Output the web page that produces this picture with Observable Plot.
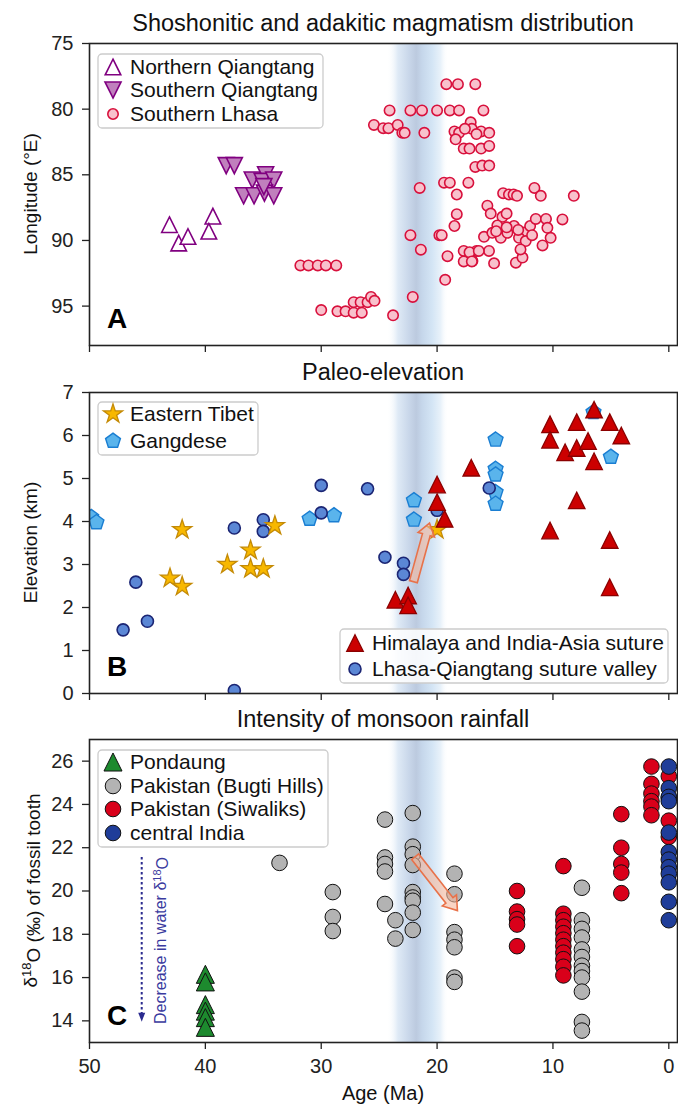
<!DOCTYPE html>
<html><head><meta charset="utf-8">
<script src="https://cdn.jsdelivr.net/npm/d3@7"></script>
<script src="https://cdn.jsdelivr.net/npm/@observablehq/plot@0.6"></script>
<style>
body{margin:0;background:#fff;width:678px;}
#chart svg{display:block}
</style></head><body><div id="chart"></div>
<script>
// ---------------- shared ----------------
const xTicks = [50, 40, 30, 20, 10, 0];
const bandAge = [24.3, 19.0];

// ---------------- Panel A: [age Ma, longitude °E] ----------------
const lonTicks = [75, 80, 85, 90, 95];
const northernQiangtang = [[43.1, 88.8], [42.3, 90.2], [41.5, 89.7], [39.35, 88.15], [39.7, 89.3]];
const southernQiangtang = [[38.2, 84.3], [37.5, 84.3], [35.95, 85.4], [34.8, 85.0], [35.1, 85.5], [34.1, 85.4],
  [36.7, 86.6], [35.8, 86.6], [34.9, 86.4], [34.1, 86.6], [34.95, 85.9]];
const southernLhasa = [
  [31.8, 91.9], [31.1, 91.9], [30.3, 91.9], [29.6, 91.9], [28.7, 91.9],
  [30.0, 95.3], [28.6, 95.4], [27.9, 95.4], [27.2, 95.5], [26.5, 95.5], [27.2, 94.7], [26.6, 94.7], [26.0, 94.7], [25.7, 94.3], [25.4, 94.6],
  [23.8, 95.7], [22.1, 94.3],
  [19.2, 78.1], [18.2, 78.1], [16.7, 78.1],
  [24.1, 80.1], [22.3, 80.1], [21.3, 80.1], [20.0, 80.1], [18.9, 80.1], [18.1, 80.1], [16.0, 80.1],
  [25.45, 81.2], [24.65, 81.45], [24.2, 81.45], [23.4, 81.2], [23.0, 81.8], [22.8, 81.8], [21.1, 81.8],
  [18.5, 81.7], [18.1, 81.8], [17.1, 81.0], [17.0, 81.5], [16.2, 81.7], [15.5, 81.8], [18.4, 82.3],
  [17.7, 83.0], [17.2, 83.0], [16.2, 83.0], [15.5, 82.8], [17.6, 81.5], [16.6, 81.9],
  [16.7, 84.4], [16.1, 84.3], [15.5, 84.3],
  [21.5, 86.0], [19.4, 85.6], [18.9, 85.6], [17.3, 85.6], [18.3, 86.5],
  [14.3, 86.4], [13.8, 86.5], [13.4, 86.5], [13.1, 86.6], [11.6, 86.0], [11.05, 86.6], [8.2, 86.6],
  [15.66, 87.35], [15.37, 87.95], [14.36, 88.2], [14.0, 87.95], [14.8, 88.86], [13.36, 88.9], [12.5, 89.4], [11.97, 88.9],
  [11.48, 88.36], [10.6, 88.36], [9.18, 88.4], [10.48, 89.04], [10.2, 89.8], [10.9, 90.38], [15.95, 89.72], [15.23, 89.42],
  [14.5, 89.8], [13.93, 89.42], [12.93, 89.8], [12.35, 90.05], [15.52, 90.8], [16.6, 90.8], [16.95, 91.56], [15.08, 91.74],
  [13.2, 91.69], [12.63, 91.3], [12.8, 90.68], [14.0, 89.0], [13.0, 89.2], [11.8, 89.6], [14.9, 89.3],
  [18.3, 88.0], [18.5, 88.9], [22.3, 89.6], [19.8, 89.6], [19.6, 89.6], [21.4, 90.7], [19.1, 91.2],
  [17.7, 90.8], [17.2, 90.9], [17.7, 91.6], [17.0, 91.6], [19.3, 93.0], [16.4, 90.8]
];

// ---------------- Panel B: [age Ma, elevation km] ----------------
const elevTicks = [0, 1, 2, 3, 4, 5, 6, 7];
const gangdese = [[49.85, 4.1], [49.4, 3.98], [31.0, 4.06], [28.9, 4.14], [22.0, 4.49], [22.0, 4.04],
  [14.95, 5.9], [14.95, 5.22], [14.95, 5.09], [14.95, 4.68], [14.95, 4.41], [6.5, 6.54], [5.0, 5.5]];
const lhasaQiangtang = [[37.5, 3.85], [35.0, 4.04], [35.0, 3.77], [30.0, 4.84], [30.0, 4.2], [26.0, 4.76],
  [46.0, 2.59], [47.1, 1.48], [45.0, 1.68], [37.5, 0.07], [24.5, 3.17], [22.9, 3.03], [22.9, 2.77], [15.5, 4.78], [20.0, 4.26]];
const easternTibet = [[42.0, 3.81], [43.05, 2.68], [42.0, 2.49], [38.1, 3.0], [36.1, 3.33], [36.1, 2.9], [35.0, 2.9], [34.0, 3.9], [20.0, 3.81]];
const himalaya = [[23.6, 2.18], [22.5, 2.28], [22.5, 2.05], [20.0, 4.86], [20.0, 4.45], [19.35, 4.06], [17.05, 5.25],
  [10.25, 6.26], [10.25, 5.9], [8.95, 5.61], [7.95, 6.31], [7.95, 5.71], [6.97, 5.87], [6.45, 6.6], [6.45, 5.4],
  [5.1, 6.31], [4.1, 6.0], [7.95, 4.49], [10.25, 3.79], [5.1, 3.57], [5.1, 2.47]];
const upliftArrow = [[22.0, 2.59], [20.61, 3.95]];

// ---------------- Panel C: [age Ma, δ18O ‰] ----------------
const d18Ticks = [14, 16, 18, 20, 22, 24, 26];
const pondaung = [[40, 16.15], [40, 15.8], [40, 14.75], [40, 14.45], [40, 14.15], [40, 13.7]];
const bugti = [[33.6, 21.3],
  [29.0, 19.95], [29.0, 18.8], [29.0, 18.15],
  [24.5, 23.3], [24.5, 21.55], [24.5, 21.25], [24.5, 20.9], [24.5, 19.4],
  [23.6, 18.65], [23.6, 17.8],
  [22.1, 23.6], [22.1, 22.05], [22.1, 21.7], [22.1, 21.2], [22.1, 19.95], [22.1, 19.7], [22.1, 19.55], [22.1, 19.0], [22.1, 18.2],
  [18.5, 20.8], [18.5, 19.85], [18.5, 18.1], [18.5, 17.75], [18.5, 17.4], [18.5, 16.0], [18.5, 15.8],
  [7.5, 20.15], [7.5, 18.65], [7.5, 18.25], [7.5, 17.85], [7.5, 17.3], [7.5, 16.95], [7.5, 16.55], [7.5, 16.3], [7.5, 16.0],
  [7.5, 15.35], [7.5, 13.95], [7.5, 13.55]];
const siwaliks = [[13.1, 20.0], [13.1, 19.05], [13.1, 18.7], [13.1, 18.45], [13.1, 17.45],
  [9.1, 21.15], [9.1, 18.95], [9.1, 18.65], [9.1, 18.35], [9.1, 18.05], [9.1, 17.75], [9.1, 17.45], [9.1, 17.15], [9.1, 16.85], [9.1, 16.5], [9.1, 16.1],
  [4.1, 23.55], [4.1, 22.0], [4.1, 21.25], [4.1, 20.85], [4.1, 19.9],
  [1.5, 25.75], [1.5, 24.95], [1.5, 24.5], [1.5, 24.15], [1.5, 23.9], [1.5, 23.5],
  [0, 25.3], [0, 24.3], [0, 23.25], [0, 22.5]];
const centralIndia = [[0, 25.75], [0, 24.75], [0, 24.35], [0, 24.15], [0, 22.7], [0, 21.8], [0, 21.45], [0, 21.1], [0, 20.8], [0, 20.4], [0, 19.5], [0, 18.65]];
const monsoonArrow = [[21.85, 21.56], [18.2, 19.07]];
const waterArrow = [[45.45, 21.55], [45.45, 13.94]];
const waterLabelAt = [43.35, 17.69];

// ---------------- helpers ----------------
const FONT = "'Liberation Sans', Arial, Helvetica, sans-serif";
const triUp = {draw(c, size) { const s = Math.sqrt(2 * size); c.moveTo(0, -s / 2); c.lineTo(s / 2, s / 2); c.lineTo(-s / 2, s / 2); c.closePath(); }};
const triDown = {draw(c, size) { const s = Math.sqrt(2 * size); c.moveTo(0, s / 2); c.lineTo(s / 2, -s / 2); c.lineTo(-s / 2, -s / 2); c.closePath(); }};
const pentagon = {draw(c, size) {
  const R = Math.sqrt(size / (2.5 * Math.sin(2 * Math.PI / 5)));
  for (let i = 0; i < 5; i++) { const a = -Math.PI / 2 + i * 2 * Math.PI / 5; const px = R * Math.cos(a), py = R * Math.sin(a); if (i) c.lineTo(px, py); else c.moveTo(px, py); }
  c.closePath();
}};

const S = {
  nq: {symbol: triUp, r: 6.2, fill: "white", stroke: "#800080", strokeWidth: 1.6},
  sq: {symbol: triDown, r: 6.4, fill: "#c080bd", stroke: "#800080", strokeWidth: 1.6},
  sl: {symbol: d3.symbolCircle, r: 5.2, fill: "#f8c1cc", stroke: "#d8103c", strokeWidth: 1.6},
  et: {symbol: d3.symbolStar, r: 6.0, fill: "#f8b800", stroke: "#c48a06", strokeWidth: 1.3},
  gd: {symbol: pentagon, r: 6.8, fill: "#5ab4ec", stroke: "#1a7ed2", strokeWidth: 1.4},
  hm: {symbol: triUp, r: 6.6, fill: "#cc0000", stroke: "#8b0000", strokeWidth: 1.3},
  lq: {symbol: d3.symbolCircle, r: 6.0, fill: "#5b87d5", stroke: "#1b2574", strokeWidth: 1.6},
  pd: {symbol: triUp, r: 7.2, fill: "#1d8a2e", stroke: "#111", strokeWidth: 1},
  bg: {symbol: d3.symbolCircle, r: 7.8, fill: "#b3b3b3", stroke: "#111", strokeWidth: 1},
  sw: {symbol: d3.symbolCircle, r: 7.8, fill: "#d9001a", stroke: "#111", strokeWidth: 1},
  ci: {symbol: d3.symbolCircle, r: 7.8, fill: "#1f3d99", stroke: "#111", strokeWidth: 1}
};

function dots(data, st) {
  return Plot.dot(data, {x: d => d[0], y: d => d[1], symbol: st.symbol, r: st.r, fill: st.fill, stroke: st.stroke, strokeWidth: st.strokeWidth, clip: true});
}

function band(id) {
  return (index, scales, values, dims) => {
    const x1 = scales.x(bandAge[0]), x2 = scales.x(bandAge[1]);
    const g = d3.create("svg:g");
    const gr = g.append("defs").append("linearGradient").attr("id", id).attr("x1", 0).attr("x2", 1).attr("y1", 0).attr("y2", 0);
    [[0, "#ffffff", 0], [0.18, "#dfeaf6", 1], [0.36, "#c9d7ea", 1], [0.48, "#bccadf", 1], [0.58, "#c6d7eb", 1], [0.74, "#d4e5f5", 1], [0.88, "#e9f2fa", 1], [1, "#ffffff", 0]]
      .forEach(([o, c, a]) => gr.append("stop").attr("offset", o).attr("stop-color", c).attr("stop-opacity", a));
    g.append("rect").attr("x", x1).attr("width", x2 - x1).attr("y", dims.marginTop)
      .attr("height", dims.height - dims.marginTop - dims.marginBottom).attr("fill", `url(#${id})`);
    return g.node();
  };
}

function title(text) {
  return (index, scales, values, d) => d3.create("svg:text")
    .attr("x", d.marginLeft + (d.width - d.marginLeft - d.marginRight) / 2).attr("y", d.marginTop - 12)
    .attr("text-anchor", "middle").attr("font-size", 23.5).attr("fill", "#111").attr("font-family", FONT).text(text).node();
}

function yLabel(build) {
  return (index, scales, values, d) => {
    const cy = d.marginTop + (d.height - d.marginTop - d.marginBottom) / 2;
    const t = d3.create("svg:text").attr("transform", `translate(37,${cy}) rotate(-90)`)
      .attr("text-anchor", "middle").attr("font-size", 19).attr("fill", "#111").attr("font-family", FONT);
    build(t);
    return t.node();
  };
}

function panelLetter(letter) {
  return (index, scales, values, d) => d3.create("svg:text")
    .attr("x", d.marginLeft + 28).attr("y", d.height - d.marginBottom - 17)
    .attr("text-anchor", "middle").attr("font-size", 28).attr("font-weight", "bold").attr("fill", "#000").attr("font-family", FONT).text(letter).node();
}

function legend(box, rows) {
  return (index, scales, values, d) => {
    const g = d3.create("svg:g").attr("transform", `translate(${d.marginLeft},${d.marginTop})`);
    g.append("rect").attr("x", box.x).attr("y", box.y).attr("width", box.w).attr("height", box.h).attr("rx", 4)
      .attr("fill", "white").attr("fill-opacity", 0.85).attr("stroke", "#cccccc").attr("stroke-width", 1.3);
    for (const row of rows) {
      const st = row.st;
      g.append("path").attr("transform", `translate(${box.x + 15},${row.y})`).attr("d", d3.symbol(st.symbol, Math.PI * st.r * st.r)())
        .attr("fill", st.fill).attr("stroke", st.stroke).attr("stroke-width", st.strokeWidth);
      g.append("text").attr("x", box.x + 32).attr("y", row.y).attr("dy", "0.35em").attr("font-size", 21)
        .attr("text-anchor", "start").attr("fill", "#111").attr("font-family", FONT).text(row.label);
    }
    return g.node();
  };
}

function blockArrow(pts, shaft, head, headLen) {
  return (index, scales, values, d) => {
    const X1 = scales.x(pts[0][0]), Y1 = scales.y(pts[0][1]), X2 = scales.x(pts[1][0]), Y2 = scales.y(pts[1][1]);
    const L = Math.hypot(X2 - X1, Y2 - Y1), ux = (X2 - X1) / L, uy = (Y2 - Y1) / L, nx = -uy, ny = ux;
    const bx = X2 - ux * headLen, by = Y2 - uy * headLen;
    const p = [[X1 + nx * shaft, Y1 + ny * shaft], [bx + nx * shaft, by + ny * shaft], [bx + nx * head, by + ny * head], [X2, Y2],
      [bx - nx * head, by - ny * head], [bx - nx * shaft, by - ny * shaft], [X1 - nx * shaft, Y1 - ny * shaft]];
    return d3.create("svg:polygon").attr("points", p.map(q => q.join(",")).join(" "))
      .attr("fill", "#f5b89c").attr("fill-opacity", 0.6).attr("stroke", "#e8724a").attr("stroke-width", 1.6).attr("stroke-linejoin", "miter").node();
  };
}

function waterAnnotation(index, scales, values, d) {
  const g = d3.create("svg:g");
  const X = scales.x(waterArrow[0][0]), Y1 = scales.y(waterArrow[0][1]), Y2 = scales.y(waterArrow[1][1]);
  g.append("line").attr("x1", X).attr("x2", X).attr("y1", Y1).attr("y2", Y2 - 8)
    .attr("stroke", "#2b2b8f").attr("stroke-width", 2).attr("stroke-dasharray", "2.5,2.5");
  g.append("path").attr("d", `M${X - 3.5},${Y2 - 9}L${X + 3.5},${Y2 - 9}L${X},${Y2}Z`).attr("fill", "#2b2b8f");
  const tx = scales.x(waterLabelAt[0]), ty = scales.y(waterLabelAt[1]);
  const t = g.append("text").attr("transform", `translate(${tx},${ty}) rotate(-90)`).attr("text-anchor", "middle")
    .attr("font-size", 16).attr("fill", "#3a3a9e").attr("font-family", FONT);
  t.append("tspan").text("Decrease in water δ");
  t.append("tspan").attr("dy", "-0.45em").attr("font-size", 11).text("18");
  t.append("tspan").attr("dy", "0.45em").text("O");
  return g.node();
}

function xAxisTicksOnly() {
  return Plot.axisX({ticks: xTicks, tickSize: 7, tickFormat: () => "", strokeWidth: 1.3, label: null});
}

function makePlot(o) {
  return Plot.plot({
    width: 678, height: o.height, marginLeft: 89, marginRight: 1, marginTop: o.marginTop, marginBottom: o.marginBottom,
    style: {fontFamily: FONT, background: "white", color: "#222", overflow: "visible"},
    x: {domain: [50, -0.75], label: null},
    y: {domain: o.yDomain, reverse: !!o.reverse, label: null},
    marks: o.marks
  });
}

const yAxis = ticks => Plot.axisY({ticks, tickSize: 7, tickPadding: 9, fontSize: 20, strokeWidth: 1.3, tickFormat: v => String(v), label: null});

// ---------------- Panel A ----------------
const plotA = makePlot({
  height: 357, marginTop: 43, marginBottom: 12, yDomain: [75, 98], reverse: true,
  marks: [
    band("bandA"),
    dots(northernQiangtang, S.nq), dots(southernQiangtang, S.sq), dots(southernLhasa, S.sl),
    legend({x: 9, y: 11, w: 225, h: 74}, [{st: S.nq, y: 24, label: "Northern Qiangtang"}, {st: S.sq, y: 47, label: "Southern Qiangtang"}, {st: S.sl, y: 71, label: "Southern Lhasa"}]),
    Plot.frame({stroke: "#222", strokeWidth: 1.6}),
    yAxis(lonTicks), xAxisTicksOnly(),
    title("Shoshonitic and adakitic magmatism distribution"),
    yLabel(t => t.text("Longitude (°E)")),
    panelLetter("A")
  ]
});

// ---------------- Panel B ----------------
const plotB = makePlot({
  height: 348, marginTop: 35, marginBottom: 12, yDomain: [0, 7],
  marks: [
    band("bandB"),
    dots(gangdese, S.gd), dots(lhasaQiangtang, S.lq), dots(easternTibet, S.et), dots(himalaya, S.hm),
    blockArrow(upliftArrow, 4, 8.5, 12),
    legend({x: 9, y: 10, w: 160, h: 53}, [{st: S.et, y: 22, label: "Eastern Tibet"}, {st: S.gd, y: 49, label: "Gangdese"}]),
    legend({x: 251, y: 237, w: 328, h: 54}, [{st: S.hm, y: 251, label: "Himalaya and India-Asia suture"}, {st: S.lq, y: 277, label: "Lhasa-Qiangtang suture valley"}]),
    Plot.frame({stroke: "#222", strokeWidth: 1.6}),
    yAxis(elevTicks), xAxisTicksOnly(),
    title("Paleo-elevation"),
    yLabel(t => t.text("Elevation (km)")),
    panelLetter("B")
  ]
});

// ---------------- Panel C ----------------
const plotC = makePlot({
  height: 401, marginTop: 34, marginBottom: 64, yDomain: [13, 27],
  marks: [
    band("bandC"),
    dots(pondaung, S.pd), dots(bugti, S.bg), dots(siwaliks, S.sw), dots(centralIndia, S.ci),
    blockArrow(monsoonArrow, 4.5, 9, 13),
    waterAnnotation,
    legend({x: 9, y: 11, w: 230, h: 97}, [{st: S.pd, y: 23, label: "Pondaung"}, {st: S.bg, y: 47, label: "Pakistan (Bugti Hills)"},
      {st: S.sw, y: 70, label: "Pakistan (Siwaliks)"}, {st: S.ci, y: 94, label: "central India"}]),
    Plot.frame({stroke: "#222", strokeWidth: 1.6}),
    yAxis(d18Ticks),
    Plot.axisX({ticks: xTicks, tickSize: 7, tickPadding: 9, fontSize: 20, strokeWidth: 1.3, tickFormat: v => String(v), label: null}),
    title("Intensity of monsoon rainfall"),
    yLabel(t => {
      t.append("tspan").text("δ");
      t.append("tspan").attr("dy", "-0.5em").attr("font-size", 13).text("18");
      t.append("tspan").attr("dy", "0.5em").text("O (‰) of fossil tooth");
    }),
    (index, scales, values, d) => d3.create("svg:text")
      .attr("x", d.marginLeft + (d.width - d.marginLeft - d.marginRight) / 2).attr("y", d.height - d.marginBottom + 58)
      .attr("text-anchor", "middle").attr("font-size", 20).attr("fill", "#111").attr("font-family", FONT).text("Age (Ma)").node(),
    panelLetter("C")
  ]
});

const chart = document.getElementById("chart");
chart.append(plotA, plotB, plotC);
</script>
</body></html>
